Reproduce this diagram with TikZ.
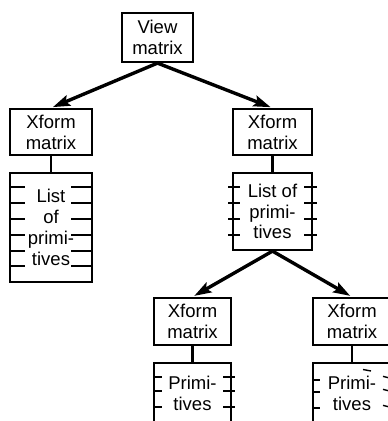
\documentclass[tikz,border=0pt]{standalone}
\usepackage{fontspec}
\setmainfont{Liberation Sans}
\usetikzlibrary{arrows.meta}
\newcommand{\boxfont}{\fontsize{18.5}{20.8}\selectfont}
\begin{document}
\begin{tikzpicture}[x=1pt,y=-1pt,
  box/.style={draw, line width=2.2pt, inner sep=0pt, align=center, font=\boxfont},
  link/.style={line width=2.2pt},
  tick/.style={line width=2.2pt},
  thintick/.style={line width=1.4pt},
  arr/.style={line width=3.4pt, -{Stealth[length=17pt,width=11pt,inset=3pt]}, shorten >=2pt}]
\useasboundingbox (0,0) rectangle (388,421);
\clip (0,0) rectangle (388,421);

% matrix nodes
\node[box, minimum width=71pt, minimum height=49pt] (view) at (157.5,37.5) {View\\matrix};
\node[box, minimum width=82pt, minimum height=46pt] (xl) at (51,132) {Xform\\matrix};
\node[box, minimum width=79pt, minimum height=46pt] (xr) at (272.5,132) {Xform\\matrix};
\node[box, minimum width=77pt, minimum height=47pt] (xbl) at (192.5,321.5) {Xform\\matrix};
\node[box, minimum width=78pt, minimum height=47pt] (xbr) at (352,321.5) {Xform\\matrix};

% primitive lists
\node[box, minimum width=82pt, minimum height=109pt] (ll) at (51,227.5) {List\\of\\primi-\\tives};
\node[box, minimum width=79pt, minimum height=77pt] (lr) at (272.5,211.5) {List of\\primi-\\tives};
\node[box, minimum width=77pt, minimum height=60pt] (pbl) at (192.5,393) {Primi-\\tives};
\node[box, minimum width=78pt, minimum height=60pt] (pbr) at (352,393) {Primi-\\tives};

% links from matrices to their lists
\draw[link] (xl.south) -- (ll.north);
\draw[link] (xr.south) -- (lr.north);
\draw[link] (xbl.south) -- (pbl.north);
\draw[link] (xbr.south) -- (pbr.north);

% hierarchy arrows
\draw[arr] (view.south) -- (xl.north);
\draw[arr] (view.south) -- (xr.north);
\draw[arr] (lr.south) -- (xbl.north);
\draw[arr] (lr.south) -- (xbr.north);

% entry marks on the lists
\foreach \y in {187,203,219,235,251,266} {
  \draw[tick] (10,\y) -- (25,\y);
  \draw[tick] (71,\y) -- (92,\y);
}
\foreach \y in {187,203,219,235} {
  \draw[tick] (228,\y) -- (240,\y);
  \draw[tick] (304,\y) -- (317,\y);
}
\foreach \y in {377,391,407} {
  \draw[tick] (154,\y) -- (162,\y);
  \draw[tick] (223,\y) -- (235,\y);
}
\foreach \y in {380,392,408} {
  \draw[tick] (313,\y) -- (320,\y);
}
\foreach \y in {377,390,406} {
  \draw[thintick] (383,\y-0.6) -- (388,\y+0.6);
}
\draw[thintick] (363,369.5) -- (371,371);
\end{tikzpicture}
\end{document}
